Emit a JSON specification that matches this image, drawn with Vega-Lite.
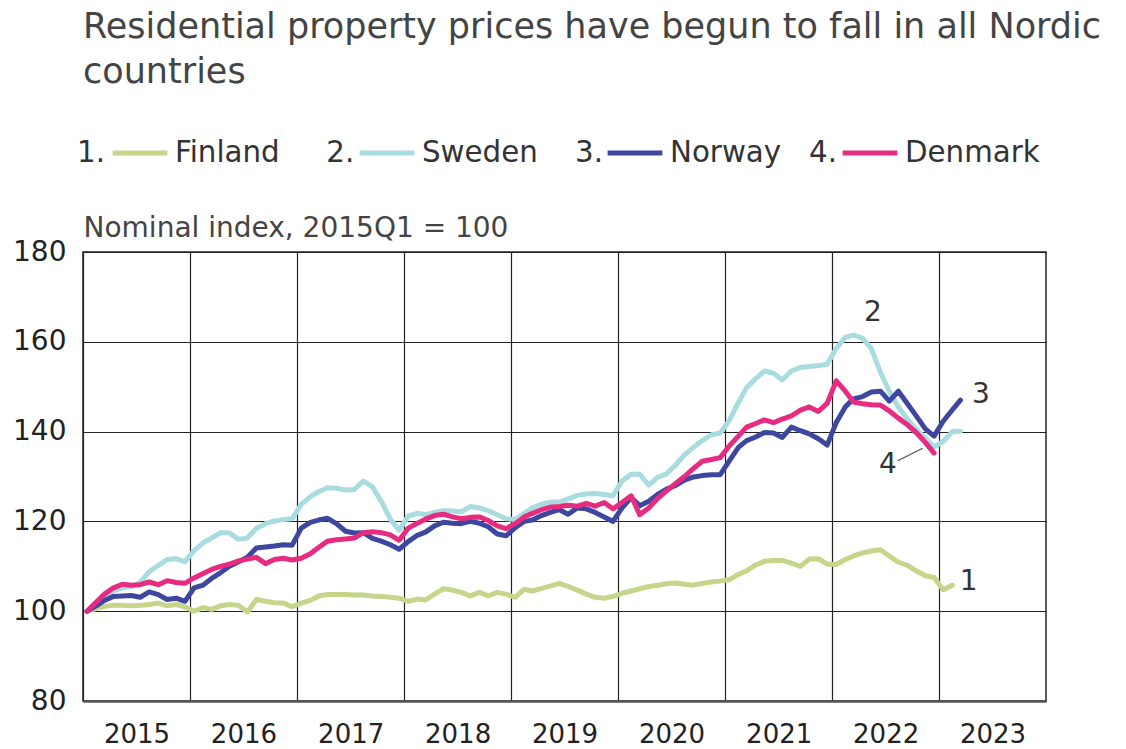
{
  "$schema": "https://vega.github.io/schema/vega-lite/v6.json",
  "width": 963,
  "height": 449,
  "padding": {"left": 12, "top": 10, "right": 5, "bottom": 5},
  "background": "white",
  "config": {"view": {"stroke": "#222222", "strokeWidth": 1.5}, "font": "DejaVu Sans"},
  "title": {
    "text": ["Residential property prices have begun to fall in all Nordic", "countries"],
    "anchor": "start", "frame": "group", "font": "DejaVu Sans", "fontSize": 35, "fontWeight": "normal",
    "color": "#444444", "lineHeight": 45, "offset": 33
  },
  "datasets": {
    "series": [
      {"date":"2015-01-15","country":"Finland","index":100},{"date":"2015-02-15","country":"Finland","index":100.6},{"date":"2015-03-15","country":"Finland","index":101.1},{"date":"2015-04-15","country":"Finland","index":101.3},{"date":"2015-05-15","country":"Finland","index":101.3},{"date":"2015-06-15","country":"Finland","index":101.2},{"date":"2015-07-15","country":"Finland","index":101.3},{"date":"2015-08-15","country":"Finland","index":101.5},{"date":"2015-09-15","country":"Finland","index":101.8},{"date":"2015-10-15","country":"Finland","index":101.2},{"date":"2015-11-15","country":"Finland","index":101.5},{"date":"2015-12-15","country":"Finland","index":101.0},
      {"date":"2016-01-15","country":"Finland","index":100.0},{"date":"2016-02-15","country":"Finland","index":100.8},{"date":"2016-03-15","country":"Finland","index":100.4},{"date":"2016-04-15","country":"Finland","index":101.2},{"date":"2016-05-15","country":"Finland","index":101.5},{"date":"2016-06-15","country":"Finland","index":101.3},{"date":"2016-07-15","country":"Finland","index":99.8},{"date":"2016-08-15","country":"Finland","index":102.6},{"date":"2016-09-15","country":"Finland","index":102.2},{"date":"2016-10-15","country":"Finland","index":101.9},{"date":"2016-11-15","country":"Finland","index":101.8},{"date":"2016-12-15","country":"Finland","index":101.0},
      {"date":"2017-01-15","country":"Finland","index":101.8},{"date":"2017-02-15","country":"Finland","index":102.4},{"date":"2017-03-15","country":"Finland","index":103.4},{"date":"2017-04-15","country":"Finland","index":103.7},{"date":"2017-05-15","country":"Finland","index":103.7},{"date":"2017-06-15","country":"Finland","index":103.7},{"date":"2017-07-15","country":"Finland","index":103.6},{"date":"2017-08-15","country":"Finland","index":103.6},{"date":"2017-09-15","country":"Finland","index":103.4},{"date":"2017-10-15","country":"Finland","index":103.3},{"date":"2017-11-15","country":"Finland","index":103.1},{"date":"2017-12-15","country":"Finland","index":102.9},
      {"date":"2018-01-15","country":"Finland","index":102.2},{"date":"2018-02-15","country":"Finland","index":102.7},{"date":"2018-03-15","country":"Finland","index":102.5},{"date":"2018-04-15","country":"Finland","index":103.8},{"date":"2018-05-15","country":"Finland","index":105.0},{"date":"2018-06-15","country":"Finland","index":104.7},{"date":"2018-07-15","country":"Finland","index":104.2},{"date":"2018-08-15","country":"Finland","index":103.4},{"date":"2018-09-15","country":"Finland","index":104.2},{"date":"2018-10-15","country":"Finland","index":103.4},{"date":"2018-11-15","country":"Finland","index":104.2},{"date":"2018-12-15","country":"Finland","index":103.8},
      {"date":"2019-01-15","country":"Finland","index":103.1},{"date":"2019-02-15","country":"Finland","index":104.9},{"date":"2019-03-15","country":"Finland","index":104.5},{"date":"2019-04-15","country":"Finland","index":105.1},{"date":"2019-05-15","country":"Finland","index":105.6},{"date":"2019-06-15","country":"Finland","index":106.2},{"date":"2019-07-15","country":"Finland","index":105.5},{"date":"2019-08-15","country":"Finland","index":104.7},{"date":"2019-09-15","country":"Finland","index":103.8},{"date":"2019-10-15","country":"Finland","index":103.1},{"date":"2019-11-15","country":"Finland","index":102.9},{"date":"2019-12-15","country":"Finland","index":103.3},
      {"date":"2020-01-15","country":"Finland","index":104.0},{"date":"2020-02-15","country":"Finland","index":104.5},{"date":"2020-03-15","country":"Finland","index":105.0},{"date":"2020-04-15","country":"Finland","index":105.5},{"date":"2020-05-15","country":"Finland","index":105.8},{"date":"2020-06-15","country":"Finland","index":106.1},{"date":"2020-07-15","country":"Finland","index":106.3},{"date":"2020-08-15","country":"Finland","index":106.0},{"date":"2020-09-15","country":"Finland","index":105.8},{"date":"2020-10-15","country":"Finland","index":106.2},{"date":"2020-11-15","country":"Finland","index":106.5},{"date":"2020-12-15","country":"Finland","index":106.7},
      {"date":"2021-01-15","country":"Finland","index":107.0},{"date":"2021-02-15","country":"Finland","index":108.2},{"date":"2021-03-15","country":"Finland","index":109.0},{"date":"2021-04-15","country":"Finland","index":110.3},{"date":"2021-05-15","country":"Finland","index":111.1},{"date":"2021-06-15","country":"Finland","index":111.3},{"date":"2021-07-15","country":"Finland","index":111.3},{"date":"2021-08-15","country":"Finland","index":110.7},{"date":"2021-09-15","country":"Finland","index":110.0},{"date":"2021-10-15","country":"Finland","index":111.6},{"date":"2021-11-15","country":"Finland","index":111.7},{"date":"2021-12-15","country":"Finland","index":110.5},
      {"date":"2022-01-15","country":"Finland","index":110.4},{"date":"2022-02-15","country":"Finland","index":111.5},{"date":"2022-03-15","country":"Finland","index":112.3},{"date":"2022-04-15","country":"Finland","index":113.0},{"date":"2022-05-15","country":"Finland","index":113.4},{"date":"2022-06-15","country":"Finland","index":113.7},{"date":"2022-07-15","country":"Finland","index":112.3},{"date":"2022-08-15","country":"Finland","index":110.9},{"date":"2022-09-15","country":"Finland","index":110.2},{"date":"2022-10-15","country":"Finland","index":109.0},{"date":"2022-11-15","country":"Finland","index":107.9},{"date":"2022-12-15","country":"Finland","index":107.5},
      {"date":"2023-01-15","country":"Finland","index":104.8},{"date":"2023-02-15","country":"Finland","index":105.8},

      {"date":"2015-01-15","country":"Sweden","index":100},{"date":"2015-02-15","country":"Sweden","index":102.0},{"date":"2015-03-15","country":"Sweden","index":103.5},{"date":"2015-04-15","country":"Sweden","index":104.5},{"date":"2015-05-15","country":"Sweden","index":105.2},{"date":"2015-06-15","country":"Sweden","index":105.5},{"date":"2015-07-15","country":"Sweden","index":106.4},{"date":"2015-08-15","country":"Sweden","index":108.8},{"date":"2015-09-15","country":"Sweden","index":110.2},{"date":"2015-10-15","country":"Sweden","index":111.5},{"date":"2015-11-15","country":"Sweden","index":111.7},{"date":"2015-12-15","country":"Sweden","index":111.0},
      {"date":"2016-01-15","country":"Sweden","index":113.5},{"date":"2016-02-15","country":"Sweden","index":115.2},{"date":"2016-03-15","country":"Sweden","index":116.3},{"date":"2016-04-15","country":"Sweden","index":117.5},{"date":"2016-05-15","country":"Sweden","index":117.4},{"date":"2016-06-15","country":"Sweden","index":116.0},{"date":"2016-07-15","country":"Sweden","index":116.3},{"date":"2016-08-15","country":"Sweden","index":118.5},{"date":"2016-09-15","country":"Sweden","index":119.5},{"date":"2016-10-15","country":"Sweden","index":120.1},{"date":"2016-11-15","country":"Sweden","index":120.4},{"date":"2016-12-15","country":"Sweden","index":120.6},
      {"date":"2017-01-15","country":"Sweden","index":123.8},{"date":"2017-02-15","country":"Sweden","index":125.5},{"date":"2017-03-15","country":"Sweden","index":126.6},{"date":"2017-04-15","country":"Sweden","index":127.5},{"date":"2017-05-15","country":"Sweden","index":127.4},{"date":"2017-06-15","country":"Sweden","index":127.0},{"date":"2017-07-15","country":"Sweden","index":127.1},{"date":"2017-08-15","country":"Sweden","index":129.0},{"date":"2017-09-15","country":"Sweden","index":127.7},{"date":"2017-10-15","country":"Sweden","index":124.5},{"date":"2017-11-15","country":"Sweden","index":120.5},{"date":"2017-12-15","country":"Sweden","index":118.0},
      {"date":"2018-01-15","country":"Sweden","index":121.2},{"date":"2018-02-15","country":"Sweden","index":121.8},{"date":"2018-03-15","country":"Sweden","index":121.5},{"date":"2018-04-15","country":"Sweden","index":122.0},{"date":"2018-05-15","country":"Sweden","index":122.4},{"date":"2018-06-15","country":"Sweden","index":122.3},{"date":"2018-07-15","country":"Sweden","index":122.1},{"date":"2018-08-15","country":"Sweden","index":123.3},{"date":"2018-09-15","country":"Sweden","index":123.0},{"date":"2018-10-15","country":"Sweden","index":122.4},{"date":"2018-11-15","country":"Sweden","index":121.5},{"date":"2018-12-15","country":"Sweden","index":120.6},
      {"date":"2019-01-15","country":"Sweden","index":120.4},{"date":"2019-02-15","country":"Sweden","index":121.8},{"date":"2019-03-15","country":"Sweden","index":123.0},{"date":"2019-04-15","country":"Sweden","index":123.8},{"date":"2019-05-15","country":"Sweden","index":124.3},{"date":"2019-06-15","country":"Sweden","index":124.3},{"date":"2019-07-15","country":"Sweden","index":125.0},{"date":"2019-08-15","country":"Sweden","index":125.8},{"date":"2019-09-15","country":"Sweden","index":126.1},{"date":"2019-10-15","country":"Sweden","index":126.2},{"date":"2019-11-15","country":"Sweden","index":126.0},{"date":"2019-12-15","country":"Sweden","index":125.7},
      {"date":"2020-01-15","country":"Sweden","index":129.0},{"date":"2020-02-15","country":"Sweden","index":130.5},{"date":"2020-03-15","country":"Sweden","index":130.5},{"date":"2020-04-15","country":"Sweden","index":128.1},{"date":"2020-05-15","country":"Sweden","index":129.8},{"date":"2020-06-15","country":"Sweden","index":130.6},{"date":"2020-07-15","country":"Sweden","index":132.5},{"date":"2020-08-15","country":"Sweden","index":134.8},{"date":"2020-09-15","country":"Sweden","index":136.5},{"date":"2020-10-15","country":"Sweden","index":138.0},{"date":"2020-11-15","country":"Sweden","index":139.3},{"date":"2020-12-15","country":"Sweden","index":139.7},
      {"date":"2021-01-15","country":"Sweden","index":142.5},{"date":"2021-02-15","country":"Sweden","index":146.5},{"date":"2021-03-15","country":"Sweden","index":149.8},{"date":"2021-04-15","country":"Sweden","index":151.8},{"date":"2021-05-15","country":"Sweden","index":153.5},{"date":"2021-06-15","country":"Sweden","index":153.0},{"date":"2021-07-15","country":"Sweden","index":151.5},{"date":"2021-08-15","country":"Sweden","index":153.5},{"date":"2021-09-15","country":"Sweden","index":154.3},{"date":"2021-10-15","country":"Sweden","index":154.5},{"date":"2021-11-15","country":"Sweden","index":154.7},{"date":"2021-12-15","country":"Sweden","index":155.0},
      {"date":"2022-01-15","country":"Sweden","index":158.5},{"date":"2022-02-15","country":"Sweden","index":161.0},{"date":"2022-03-15","country":"Sweden","index":161.5},{"date":"2022-04-15","country":"Sweden","index":160.8},{"date":"2022-05-15","country":"Sweden","index":158.5},{"date":"2022-06-15","country":"Sweden","index":153.2},{"date":"2022-07-15","country":"Sweden","index":149.0},{"date":"2022-08-15","country":"Sweden","index":145.5},{"date":"2022-09-15","country":"Sweden","index":142.8},{"date":"2022-10-15","country":"Sweden","index":140.5},{"date":"2022-11-15","country":"Sweden","index":138.5},{"date":"2022-12-15","country":"Sweden","index":136.6},
      {"date":"2023-01-15","country":"Sweden","index":137.8},{"date":"2023-02-15","country":"Sweden","index":140.0},{"date":"2023-03-15","country":"Sweden","index":140.1},

      {"date":"2015-01-15","country":"Norway","index":100},{"date":"2015-02-15","country":"Norway","index":101.2},{"date":"2015-03-15","country":"Norway","index":102.4},{"date":"2015-04-15","country":"Norway","index":103.3},{"date":"2015-05-15","country":"Norway","index":103.4},{"date":"2015-06-15","country":"Norway","index":103.5},{"date":"2015-07-15","country":"Norway","index":103.1},{"date":"2015-08-15","country":"Norway","index":104.3},{"date":"2015-09-15","country":"Norway","index":103.7},{"date":"2015-10-15","country":"Norway","index":102.6},{"date":"2015-11-15","country":"Norway","index":102.9},{"date":"2015-12-15","country":"Norway","index":102.2},
      {"date":"2016-01-15","country":"Norway","index":105.2},{"date":"2016-02-15","country":"Norway","index":105.8},{"date":"2016-03-15","country":"Norway","index":107.3},{"date":"2016-04-15","country":"Norway","index":108.6},{"date":"2016-05-15","country":"Norway","index":110.0},{"date":"2016-06-15","country":"Norway","index":111.0},{"date":"2016-07-15","country":"Norway","index":112.0},{"date":"2016-08-15","country":"Norway","index":114.1},{"date":"2016-09-15","country":"Norway","index":114.3},{"date":"2016-10-15","country":"Norway","index":114.5},{"date":"2016-11-15","country":"Norway","index":114.8},{"date":"2016-12-15","country":"Norway","index":114.7},
      {"date":"2017-01-15","country":"Norway","index":118.5},{"date":"2017-02-15","country":"Norway","index":119.8},{"date":"2017-03-15","country":"Norway","index":120.3},{"date":"2017-04-15","country":"Norway","index":120.7},{"date":"2017-05-15","country":"Norway","index":119.5},{"date":"2017-06-15","country":"Norway","index":117.8},{"date":"2017-07-15","country":"Norway","index":117.4},{"date":"2017-08-15","country":"Norway","index":117.5},{"date":"2017-09-15","country":"Norway","index":116.2},{"date":"2017-10-15","country":"Norway","index":115.6},{"date":"2017-11-15","country":"Norway","index":114.8},{"date":"2017-12-15","country":"Norway","index":113.8},
      {"date":"2018-01-15","country":"Norway","index":115.5},{"date":"2018-02-15","country":"Norway","index":116.9},{"date":"2018-03-15","country":"Norway","index":117.6},{"date":"2018-04-15","country":"Norway","index":119.0},{"date":"2018-05-15","country":"Norway","index":119.8},{"date":"2018-06-15","country":"Norway","index":119.6},{"date":"2018-07-15","country":"Norway","index":119.5},{"date":"2018-08-15","country":"Norway","index":120.0},{"date":"2018-09-15","country":"Norway","index":119.6},{"date":"2018-10-15","country":"Norway","index":118.8},{"date":"2018-11-15","country":"Norway","index":117.2},{"date":"2018-12-15","country":"Norway","index":116.8},
      {"date":"2019-01-15","country":"Norway","index":118.6},{"date":"2019-02-15","country":"Norway","index":120.0},{"date":"2019-03-15","country":"Norway","index":120.3},{"date":"2019-04-15","country":"Norway","index":121.3},{"date":"2019-05-15","country":"Norway","index":122.0},{"date":"2019-06-15","country":"Norway","index":122.6},{"date":"2019-07-15","country":"Norway","index":121.6},{"date":"2019-08-15","country":"Norway","index":123.0},{"date":"2019-09-15","country":"Norway","index":122.8},{"date":"2019-10-15","country":"Norway","index":122.0},{"date":"2019-11-15","country":"Norway","index":121.0},{"date":"2019-12-15","country":"Norway","index":120.0},
      {"date":"2020-01-15","country":"Norway","index":123.0},{"date":"2020-02-15","country":"Norway","index":125.3},{"date":"2020-03-15","country":"Norway","index":123.5},{"date":"2020-04-15","country":"Norway","index":124.5},{"date":"2020-05-15","country":"Norway","index":126.0},{"date":"2020-06-15","country":"Norway","index":127.2},{"date":"2020-07-15","country":"Norway","index":128.0},{"date":"2020-08-15","country":"Norway","index":129.2},{"date":"2020-09-15","country":"Norway","index":129.9},{"date":"2020-10-15","country":"Norway","index":130.2},{"date":"2020-11-15","country":"Norway","index":130.4},{"date":"2020-12-15","country":"Norway","index":130.4},
      {"date":"2021-01-15","country":"Norway","index":133.5},{"date":"2021-02-15","country":"Norway","index":136.5},{"date":"2021-03-15","country":"Norway","index":138.0},{"date":"2021-04-15","country":"Norway","index":138.8},{"date":"2021-05-15","country":"Norway","index":139.8},{"date":"2021-06-15","country":"Norway","index":139.7},{"date":"2021-07-15","country":"Norway","index":138.7},{"date":"2021-08-15","country":"Norway","index":141.0},{"date":"2021-09-15","country":"Norway","index":140.2},{"date":"2021-10-15","country":"Norway","index":139.5},{"date":"2021-11-15","country":"Norway","index":138.4},{"date":"2021-12-15","country":"Norway","index":137.0},
      {"date":"2022-01-15","country":"Norway","index":142.0},{"date":"2022-02-15","country":"Norway","index":145.5},{"date":"2022-03-15","country":"Norway","index":147.3},{"date":"2022-04-15","country":"Norway","index":147.8},{"date":"2022-05-15","country":"Norway","index":148.8},{"date":"2022-06-15","country":"Norway","index":149.0},{"date":"2022-07-15","country":"Norway","index":146.8},{"date":"2022-08-15","country":"Norway","index":149.0},{"date":"2022-09-15","country":"Norway","index":146.2},{"date":"2022-10-15","country":"Norway","index":143.5},{"date":"2022-11-15","country":"Norway","index":140.6},{"date":"2022-12-15","country":"Norway","index":139.0},
      {"date":"2023-01-15","country":"Norway","index":142.3},{"date":"2023-02-15","country":"Norway","index":144.8},{"date":"2023-03-15","country":"Norway","index":147.0},

      {"date":"2015-01-15","country":"Denmark","index":100},{"date":"2015-02-15","country":"Denmark","index":102.0},{"date":"2015-03-15","country":"Denmark","index":103.8},{"date":"2015-04-15","country":"Denmark","index":105.2},{"date":"2015-05-15","country":"Denmark","index":106.0},{"date":"2015-06-15","country":"Denmark","index":105.8},{"date":"2015-07-15","country":"Denmark","index":105.9},{"date":"2015-08-15","country":"Denmark","index":106.5},{"date":"2015-09-15","country":"Denmark","index":105.9},{"date":"2015-10-15","country":"Denmark","index":106.8},{"date":"2015-11-15","country":"Denmark","index":106.4},{"date":"2015-12-15","country":"Denmark","index":106.2},
      {"date":"2016-01-15","country":"Denmark","index":107.4},{"date":"2016-02-15","country":"Denmark","index":108.4},{"date":"2016-03-15","country":"Denmark","index":109.3},{"date":"2016-04-15","country":"Denmark","index":110.0},{"date":"2016-05-15","country":"Denmark","index":110.5},{"date":"2016-06-15","country":"Denmark","index":111.2},{"date":"2016-07-15","country":"Denmark","index":111.6},{"date":"2016-08-15","country":"Denmark","index":112.0},{"date":"2016-09-15","country":"Denmark","index":110.6},{"date":"2016-10-15","country":"Denmark","index":111.5},{"date":"2016-11-15","country":"Denmark","index":111.8},{"date":"2016-12-15","country":"Denmark","index":111.4},
      {"date":"2017-01-15","country":"Denmark","index":111.8},{"date":"2017-02-15","country":"Denmark","index":112.8},{"date":"2017-03-15","country":"Denmark","index":114.2},{"date":"2017-04-15","country":"Denmark","index":115.6},{"date":"2017-05-15","country":"Denmark","index":115.9},{"date":"2017-06-15","country":"Denmark","index":116.1},{"date":"2017-07-15","country":"Denmark","index":116.3},{"date":"2017-08-15","country":"Denmark","index":117.5},{"date":"2017-09-15","country":"Denmark","index":117.7},{"date":"2017-10-15","country":"Denmark","index":117.5},{"date":"2017-11-15","country":"Denmark","index":117.0},{"date":"2017-12-15","country":"Denmark","index":115.8},
      {"date":"2018-01-15","country":"Denmark","index":118.5},{"date":"2018-02-15","country":"Denmark","index":119.6},{"date":"2018-03-15","country":"Denmark","index":120.5},{"date":"2018-04-15","country":"Denmark","index":121.3},{"date":"2018-05-15","country":"Denmark","index":121.6},{"date":"2018-06-15","country":"Denmark","index":121.0},{"date":"2018-07-15","country":"Denmark","index":120.6},{"date":"2018-08-15","country":"Denmark","index":120.9},{"date":"2018-09-15","country":"Denmark","index":121.0},{"date":"2018-10-15","country":"Denmark","index":120.2},{"date":"2018-11-15","country":"Denmark","index":119.0},{"date":"2018-12-15","country":"Denmark","index":118.4},
      {"date":"2019-01-15","country":"Denmark","index":119.5},{"date":"2019-02-15","country":"Denmark","index":121.0},{"date":"2019-03-15","country":"Denmark","index":121.8},{"date":"2019-04-15","country":"Denmark","index":122.6},{"date":"2019-05-15","country":"Denmark","index":123.2},{"date":"2019-06-15","country":"Denmark","index":123.3},{"date":"2019-07-15","country":"Denmark","index":123.6},{"date":"2019-08-15","country":"Denmark","index":123.4},{"date":"2019-09-15","country":"Denmark","index":124.0},{"date":"2019-10-15","country":"Denmark","index":123.4},{"date":"2019-11-15","country":"Denmark","index":124.2},{"date":"2019-12-15","country":"Denmark","index":122.8},
      {"date":"2020-01-15","country":"Denmark","index":124.2},{"date":"2020-02-15","country":"Denmark","index":125.7},{"date":"2020-03-15","country":"Denmark","index":121.5},{"date":"2020-04-15","country":"Denmark","index":123.0},{"date":"2020-05-15","country":"Denmark","index":125.1},{"date":"2020-06-15","country":"Denmark","index":126.8},{"date":"2020-07-15","country":"Denmark","index":128.4},{"date":"2020-08-15","country":"Denmark","index":130.0},{"date":"2020-09-15","country":"Denmark","index":131.8},{"date":"2020-10-15","country":"Denmark","index":133.4},{"date":"2020-11-15","country":"Denmark","index":133.8},{"date":"2020-12-15","country":"Denmark","index":134.2},
      {"date":"2021-01-15","country":"Denmark","index":136.8},{"date":"2021-02-15","country":"Denmark","index":139.0},{"date":"2021-03-15","country":"Denmark","index":141.0},{"date":"2021-04-15","country":"Denmark","index":141.8},{"date":"2021-05-15","country":"Denmark","index":142.6},{"date":"2021-06-15","country":"Denmark","index":142.0},{"date":"2021-07-15","country":"Denmark","index":142.8},{"date":"2021-08-15","country":"Denmark","index":143.5},{"date":"2021-09-15","country":"Denmark","index":144.8},{"date":"2021-10-15","country":"Denmark","index":145.5},{"date":"2021-11-15","country":"Denmark","index":144.5},{"date":"2021-12-15","country":"Denmark","index":146.3},
      {"date":"2022-01-15","country":"Denmark","index":151.3},{"date":"2022-02-15","country":"Denmark","index":149.0},{"date":"2022-03-15","country":"Denmark","index":146.6},{"date":"2022-04-15","country":"Denmark","index":146.2},{"date":"2022-05-15","country":"Denmark","index":146.0},{"date":"2022-06-15","country":"Denmark","index":145.9},{"date":"2022-07-15","country":"Denmark","index":144.6},{"date":"2022-08-15","country":"Denmark","index":143.0},{"date":"2022-09-15","country":"Denmark","index":141.5},{"date":"2022-10-15","country":"Denmark","index":139.8},{"date":"2022-11-15","country":"Denmark","index":137.6},{"date":"2022-12-15","country":"Denmark","index":135.2}
    ],
    "labels": [
      {"date":"2023-04-12","index":106.5,"label":"1"},
      {"date":"2022-05-20","index":166.4,"label":"2"},
      {"date":"2023-05-24","index":148.1,"label":"3"},
      {"date":"2022-07-10","index":132.5,"label":"4"}
    ],
    "leader": [
      {"date":"2022-08-13","index":133.5,"date2":"2022-11-06","index2":136.3}
    ]
  },
  "layer": [
    {
      "data": {"name": "series"},
      "mark": {"type": "line", "strokeWidth": 5, "strokeJoin": "round", "strokeCap": "round"},
      "encoding": {
        "x": {
          "field": "date", "type": "temporal",
          "scale": {"type": "utc", "domain": [{"year": 2015, "month": 1, "date": 1, "utc": true}, {"year": 2024, "month": 1, "date": 1, "utc": true}]},
          "axis": {
            "title": null,
            "values": [
              {"year": 2015, "month": 1, "date": 1, "utc": true},{"year": 2016, "month": 1, "date": 1, "utc": true},{"year": 2017, "month": 1, "date": 1, "utc": true},
              {"year": 2018, "month": 1, "date": 1, "utc": true},{"year": 2019, "month": 1, "date": 1, "utc": true},{"year": 2020, "month": 1, "date": 1, "utc": true},
              {"year": 2021, "month": 1, "date": 1, "utc": true},{"year": 2022, "month": 1, "date": 1, "utc": true},{"year": 2023, "month": 1, "date": 1, "utc": true}
            ],
            "labelExpr": "utcFormat(datum.value, '%Y')",
            "labelOffset": 53.5, "labelAlign": "center", "labelPadding": 20,
            "labelFontSize": 26, "labelColor": "#222222", "labelFont": "DejaVu Sans",
            "ticks": false, "grid": true, "gridColor": "#222222", "gridWidth": 1.2,
            "domain": true, "domainColor": "#555555", "domainWidth": 2.5,
            "labelOverlap": false, "labelFlush": false
          }
        },
        "y": {
          "field": "index", "type": "quantitative",
          "scale": {"domain": [80, 180], "nice": false, "zero": false},
          "axis": {
            "values": [80, 100, 120, 140, 160, 180],
            "grid": true, "gridColor": "#222222", "gridWidth": 1.2,
            "domain": false, "ticks": false,
            "labelFontSize": 28, "labelColor": "#222222", "labelPadding": 17, "labelFont": "DejaVu Sans",
            "title": "Nominal index, 2015Q1 = 100", "titleAngle": 0, "titleAlign": "left", "titleBaseline": "alphabetic",
            "titleX": 0, "titleY": -16, "titleFontSize": 28, "titleFontWeight": "normal", "titleColor": "#444444", "titleFont": "DejaVu Sans"
          }
        },
        "color": {
          "field": "country", "type": "nominal",
          "scale": {"domain": ["Finland", "Sweden", "Norway", "Denmark"], "range": ["#c5d68a", "#a9dcdf", "#3d479f", "#e62b80"]},
          "legend": {
            "orient": "none", "legendX": -6, "legendY": -129, "direction": "horizontal", "columns": 4, "gridAlign": "none",
            "title": "1.", "titleOrient": "left", "titleAnchor": "middle", "titleBaseline": "line-top", "titleLineHeight": 16, "titleFontSize": 29.3, "titleFontWeight": "normal", "titleColor": "#333333", "titlePadding": 5, "titleFont": "DejaVu Sans",
            "symbolType": "stroke", "symbolStrokeWidth": 5, "symbolSize": 3000,
            "labelFontSize": 29.3, "labelColor": "#333333", "labelOffset": 5, "labelFont": "DejaVu Sans", "labelLimit": 0,
            "columnPadding": -6,
            "labelExpr": "datum.label == 'Finland' ? 'Finland\u00a0\u00a0\u00a0\u00a0\u00a02.' : datum.label == 'Sweden' ? 'Sweden\u00a0\u00a0\u00a0\u00a03.' : datum.label == 'Norway' ? 'Norway\u00a0\u00a0\u00a04.' : datum.label"
          }
        }
      }
    },
    {
      "data": {"name": "leader"},
      "mark": {"type": "rule", "color": "#555555", "strokeWidth": 1.3},
      "encoding": {
        "x": {"field": "date", "type": "temporal"},
        "x2": {"field": "date2"},
        "y": {"field": "index", "type": "quantitative"},
        "y2": {"field": "index2"}
      }
    },
    {
      "data": {"name": "labels"},
      "mark": {"type": "text", "fontSize": 28, "font": "DejaVu Sans", "color": "#333333", "align": "center", "baseline": "middle"},
      "encoding": {
        "x": {"field": "date", "type": "temporal"},
        "y": {"field": "index", "type": "quantitative"},
        "text": {"field": "label"}
      }
    }
  ]
}
